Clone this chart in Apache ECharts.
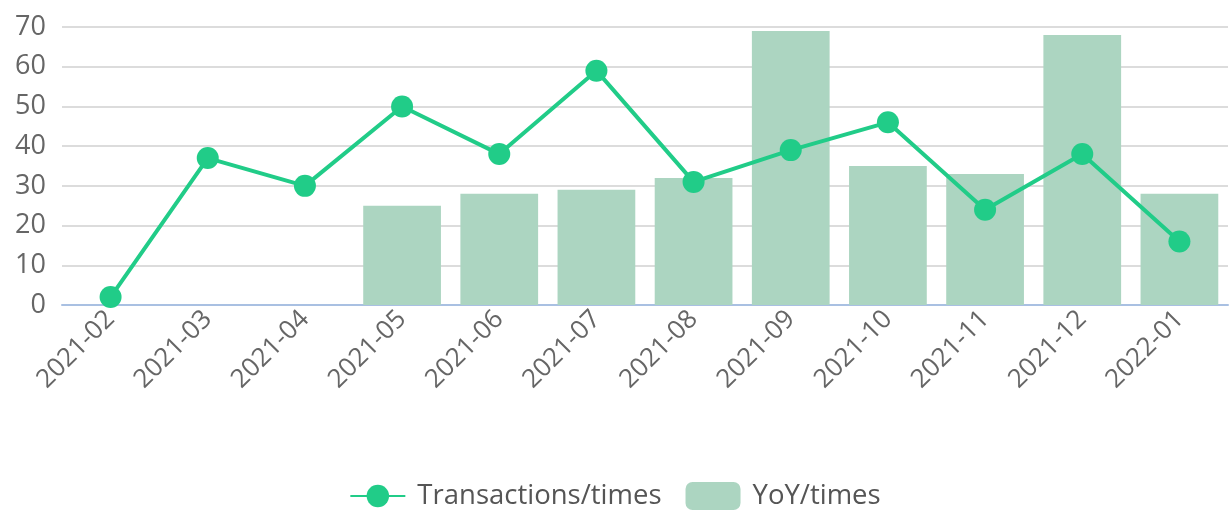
<!DOCTYPE html>
<html>
<head>
<meta charset="utf-8">
<script src="https://cdn.jsdelivr.net/npm/echarts@6/dist/echarts.min.js"></script>
<style>
    html, body { margin: 0; padding: 0; background: #fff; }
    #chart { width: 1230px; height: 511px; }
</style>
</head>
<body>
<div id="chart"></div>
<script>
var months = ["2021-02", "2021-03", "2021-04", "2021-05", "2021-06", "2021-07",
    "2021-08", "2021-09", "2021-10", "2021-11", "2021-12", "2022-01"];
var transactions = [2, 37, 30, 50, 38, 59, 31, 39, 46, 24, 38, 16];
var yoy = ["-", "-", "-", 25, 28, 29, 32, 69, 35, 33, 68, 28];

var chart = echarts.init(document.getElementById("chart"));
var option = {
    animation: false,
    textStyle: { fontFamily: "Open Sans" },
    grid: {
        left: 62,
        right: 2,
        top: 27,
        bottom: 206
    },
    legend: {
        top: 477,
        left: "center",
        itemWidth: 55,
        itemHeight: 28,
        itemGap: 24,
        textStyle: { fontSize: 27.5, color: "#555", padding: [0, 0, 0, 7] },
        data: ["Transactions/times", "YoY/times"]
    },
    xAxis: {
        type: "category",
        data: months,
        axisLine: { lineStyle: { color: "#a9c0e2", width: 2 } },
        axisTick: { length: 7, lineStyle: { color: "#a9c0e2", width: 2 } },
        axisLabel: {
            rotate: 45,
            fontSize: 26,
            color: "#666",
            margin: 10,
            interval: 0
        }
    },
    yAxis: {
        type: "value",
        min: 0,
        max: 70,
        interval: 10,
        axisLabel: { fontSize: 27, color: "#666", margin: 16 },
        axisLine: { show: false },
        axisTick: { show: false },
        splitLine: { lineStyle: { color: "#dcdcdc", width: 2 } }
    },
    series: [{
        name: "Transactions/times",
        type: "line",
        z: 5,
        data: transactions,
        symbol: "circle",
        symbolSize: 22,
        itemStyle: { color: "#21cc88" },
        lineStyle: { color: "#21cc88", width: 4 }
    }, {
        name: "YoY/times",
        type: "bar",
        z: 2,
        data: yoy,
        barCategoryGap: "20%",
        itemStyle: { color: "#acd5c1" }
    }]
};
chart.setOption(option, true);
</script>
</body>
</html>
